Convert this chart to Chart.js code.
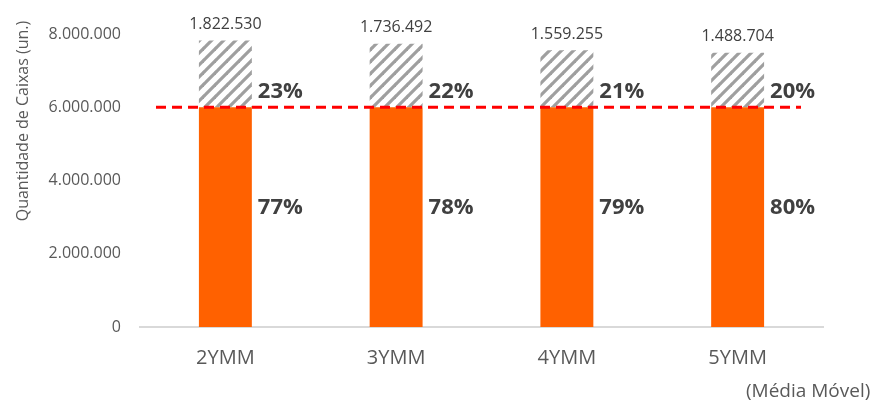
<!DOCTYPE html>
<html>
<head>
<meta charset="utf-8">
<script src="https://cdn.jsdelivr.net/npm/chart.js@4"></script>
<style>
  html, body { margin: 0; padding: 0; background: #fff; }
  #wrap { width: 875px; height: 401px; }
</style>
</head>
<body>
<div id="wrap"><canvas id="caixasChart"></canvas></div>
<script>
// Caixas por média móvel: parcela até o limite + excedente
const categories = ['2YMM', '3YMM', '4YMM', '5YMM'];
const baseValues = [6000000, 6000000, 6000000, 6000000];
const extraValues = [1822530, 1736492, 1559255, 1488704];
const limitValue = 6000000;
const yTicks = [0, 2000000, 4000000, 6000000, 8000000];

const FONT = "'Open Sans', 'DejaVu Sans', sans-serif";

// pt-BR thousands separator
function fmt(n) {
  return String(Math.round(n)).replace(/\B(?=(\d{3})+(?!\d))/g, '.');
}

// Diagonal hatch for the excess part
function hatchPattern() {
  const size = 12;
  const c = document.createElement('canvas');
  c.width = size;
  c.height = size;
  const g = c.getContext('2d');
  g.fillStyle = '#ffffff';
  g.fillRect(0, 0, size, size);
  g.strokeStyle = '#9f9f9f';
  g.lineWidth = 3.2;
  for (const off of [-size, 0, size]) {
    g.beginPath();
    g.moveTo(off - 1, size + 1);
    g.lineTo(off + size + 1, -1);
    g.stroke();
  }
  return g.createPattern(c, 'repeat');
}

// Limit line, value labels, shares and footnote
const annotations = {
  id: 'annotations',
  afterDatasetsDraw(chart) {
    const { ctx, chartArea, scales } = chart;
    const y = scales.y;
    const baseMeta = chart.getDatasetMeta(0);
    const extraMeta = chart.getDatasetMeta(1);

    ctx.save();
    // dashed limit line
    const ly = y.getPixelForValue(limitValue);
    ctx.strokeStyle = '#ff0000';
    ctx.lineWidth = 3;
    ctx.setLineDash([10, 6]);
    ctx.beginPath();
    ctx.moveTo(chartArea.left + 16, ly);
    ctx.lineTo(chartArea.right - 22, ly);
    ctx.stroke();
    ctx.setLineDash([]);

    categories.forEach((cat, i) => {
      const total = baseValues[i] + extraValues[i];
      const extraPct = Math.round(extraValues[i] / total * 100);
      const basePct = 100 - extraPct;
      const top = extraMeta.data[i];
      const bot = baseMeta.data[i];
      const right = top.x + top.width / 2;

      ctx.fillStyle = '#404040';
      ctx.font = '16px ' + FONT;
      ctx.textAlign = 'center';
      ctx.textBaseline = 'middle';
      ctx.fillText(fmt(extraValues[i]), top.x, top.y - 16);

      ctx.font = 'bold 22px ' + FONT;
      ctx.textAlign = 'left';
      ctx.fillText(extraPct + '%', right + 6, bot.y - 16);
      const mid = y.getPixelForValue(baseValues[i] / 2);
      ctx.fillText(basePct + '%', right + 6, mid - 9);
    });

    // axis title and footnote
    ctx.fillStyle = '#595959';
    ctx.font = '16px ' + FONT;
    ctx.save();
    ctx.translate(23, 121);
    ctx.rotate(-Math.PI / 2);
    ctx.textAlign = 'center';
    ctx.fillText('Quantidade de Caixas (un.)', 0, 0);
    ctx.restore();

    ctx.font = '19px ' + FONT;
    ctx.textAlign = 'left';
    ctx.fillText('(Média Móvel)', 746, 392);
    ctx.restore();
  }
};

const caixasChart = new Chart(document.getElementById('caixasChart'), {
  type: 'bar',
  data: {
    labels: categories,
    datasets: [
      {
        label: 'Base',
        data: baseValues,
        backgroundColor: '#ff6100',
        borderWidth: 0,
        barPercentage: 0.31,
        categoryPercentage: 1,
      },
      {
        label: 'Excedente',
        data: extraValues,
        backgroundColor: hatchPattern(),
        borderWidth: 0,
        barPercentage: 0.31,
        categoryPercentage: 1,
      },
    ],
  },
  options: {
    responsive: true,
    maintainAspectRatio: false,
    animation: false,
    layout: { padding: { top: 34, right: 52, left: 0, bottom: 0 } },
    plugins: {
      legend: { display: false },
      tooltip: { enabled: false },
    },
    scales: {
      x: {
        stacked: true,
        grid: { display: false, drawTicks: false },
        border: { display: true, color: '#d9d9d9', width: 2 },
        ticks: { color: '#595959', font: { family: FONT, size: 20 }, padding: 19 },
        afterFit(scale) { scale.height = 74; },
      },
      y: {
        stacked: true,
        min: 0,
        max: 8000000,
        afterBuildTicks(scale) { scale.ticks = yTicks.map(v => ({ value: v })); },
        grid: { display: false, drawTicks: false },
        border: { display: false },
        ticks: {
          color: '#595959',
          font: { family: FONT, size: 16 },
          padding: 19,
          callback: v => fmt(v),
        },
        afterFit(scale) { scale.width = 140; },
      },
    },
  },
  plugins: [annotations],
});
</script>
</body>
</html>
